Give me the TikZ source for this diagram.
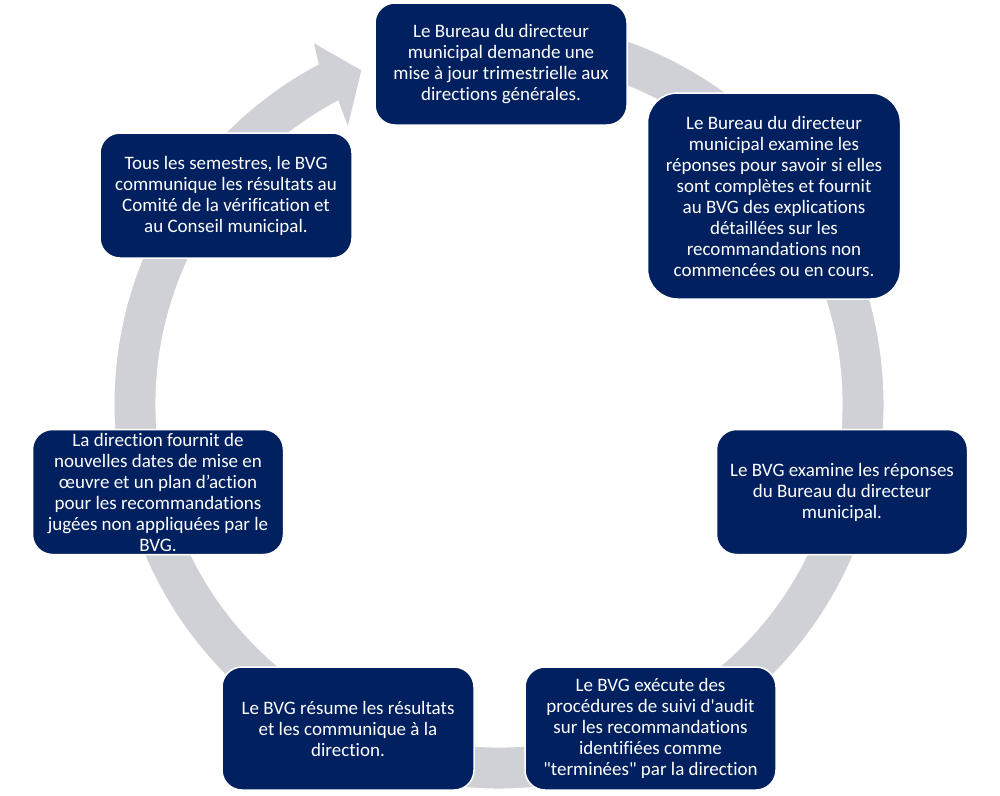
\documentclass[tikz,border=0pt]{standalone}
\usepackage{fontspec}
\usetikzlibrary{calc}
\setmainfont{Carlito}[Ligatures={TeXOff,NoCommon}]
\definecolor{navy}{RGB}{0,32,96}
\definecolor{ringgray}{RGB}{208,209,214}
\begin{document}
\begin{tikzpicture}[x=1pt,y=1pt,
  stepbox/.style={rectangle, fill=navy, draw=white, line width=1.5pt,
    rounded corners=20pt, text=white, align=center, inner sep=0pt,
    font=\fontsize{19}{21}\selectfont},
  ring/.style={fill=ringgray, draw=white, line width=1pt}]
\fill[white] (0,0) rectangle (1000,-795);
\useasboundingbox (0,0) rectangle (1000,-795);
\coordinate (C) at (499,-404);
% circular arrow
\filldraw[ring] ($(C)+(95:385)$) arc[start angle=95, end angle=-242, radius=385]
  -- (313,-42) -- (362,-70) -- (348,-128)
  -- ($(C)+(118:343)$) arc[start angle=-242, end angle=95, radius=343] -- cycle;
% boxes
\node[stepbox, minimum width=252pt, minimum height=122pt] (b1) at (501,-64)
  {Le Bureau du directeur\\ municipal demande une\\ mise à jour trimestrielle aux\\ directions générales.};
\node[stepbox, rounded corners=30pt, minimum width=253pt, minimum height=206pt] (b2) at (774,-196)
  {Le Bureau du directeur\\ municipal examine les\\ réponses pour savoir si elles\\ sont complètes et fournit\\ au BVG des explications\\ détaillées sur les\\ recommandations non\\ commencées ou en cours.};
\node[stepbox, minimum width=251pt, minimum height=125pt] (b3) at (842,-492)
  {Le BVG examine les réponses\\ du Bureau du directeur\\ municipal.};
\node[stepbox, minimum width=251pt, minimum height=123pt] (b4) at (650.5,-728.5)
  {Le BVG exécute des\\ procédures de suivi d'audit\\ sur les recommandations\\ identifiées comme\\ "terminées" par la direction};
\node[stepbox, minimum width=252pt, minimum height=123pt] (b5) at (348,-728.5)
  {Le BVG résume les résultats\\ et les communique à la\\ direction.};
\node[stepbox, minimum width=251pt, minimum height=125pt] (b6) at (158,-492)
  {La direction fournit de\\ nouvelles dates de mise en\\ œuvre et un plan d’action\\ pour les recommandations\\ jugées non appliquées par le\\ BVG.};
\node[stepbox, minimum width=252pt, minimum height=125pt] (b7) at (226,-195.5)
  {Tous les semestres, le BVG\\ communique les résultats au\\ Comité de la vérification et\\ au Conseil municipal.};
\end{tikzpicture}
\end{document}
